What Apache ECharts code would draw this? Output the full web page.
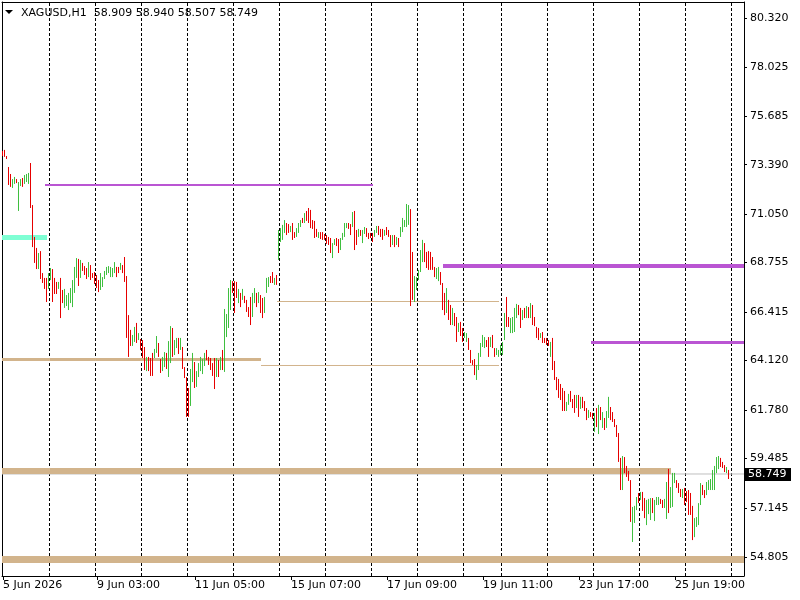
<!DOCTYPE html>
<html><head><meta charset="utf-8">
<script src="https://cdn.jsdelivr.net/npm/echarts@6/dist/echarts.min.js"></script>
<style>html,body{margin:0;padding:0;background:#fff}#c{width:800px;height:600px}</style>
</head><body><div id="c"></div>
<script>
const symbolName = 'XAGUSD,H1';
const lastQuote = [58.909, 58.940, 58.507, 58.749];

const highs = [
74.04,74.09,73.80,73.28,72.95,72.71,72.81,72.71,72.57,72.71,
72.76,72.90,72.95,73.00,73.47,71.48,69.97,69.45,69.21,69.30,
68.26,68.03,68.03,68.26,68.50,68.45,68.03,67.84,67.84,68.03,
67.46,67.51,67.22,67.32,67.55,67.93,68.55,68.97,68.93,68.88,
68.74,68.59,68.50,68.78,68.64,68.26,68.31,68.17,67.93,68.26,
68.07,68.36,68.55,68.59,68.55,68.50,68.78,68.55,68.55,68.74,
68.64,69.02,68.12,66.27,65.57,65.33,65.71,65.90,65.42,65.14,
65.09,64.76,64.29,64.29,64.24,64.48,64.67,65.28,64.95,64.19,
64.29,64.52,64.48,65.04,65.75,65.66,65.09,65.19,65.19,65.19,
64.76,63.81,63.34,62.82,63.72,64.48,64.05,63.62,64.00,64.29,
64.19,64.48,64.62,64.29,64.24,64.00,64.24,64.24,64.14,64.29,
64.62,66.56,66.32,67.55,67.93,67.88,67.88,67.84,67.51,67.32,
67.51,67.18,66.99,66.65,67.13,67.32,67.55,67.32,67.36,67.22,
67.08,67.13,68.03,68.07,68.12,68.31,68.03,68.17,70.30,70.39,
70.54,70.77,70.63,70.58,70.49,70.63,70.20,70.39,70.63,70.77,
70.87,71.10,71.20,71.34,71.25,70.77,70.73,70.35,70.20,70.20,
70.20,70.11,70.06,69.97,69.92,69.68,69.87,69.92,69.87,69.92,
70.16,70.63,70.63,70.63,70.58,71.15,71.20,70.30,70.35,70.30,
70.30,70.44,70.39,70.16,70.16,70.16,70.30,70.49,70.49,70.35,
70.35,70.30,70.44,70.30,70.06,70.06,70.06,69.97,69.92,70.44,
70.87,70.77,71.53,71.48,71.29,69.26,68.12,68.07,68.41,69.35,
69.83,69.68,69.26,69.30,69.26,69.02,68.55,68.50,68.55,68.31,
67.79,67.32,67.55,66.99,66.75,66.61,66.37,66.18,65.90,65.95,
65.66,65.47,65.42,65.19,64.62,64.14,64.19,63.91,64.48,64.95,
65.33,65.23,65.09,65.23,65.23,65.33,64.71,64.71,64.62,64.86,
65.00,66.37,67.13,66.18,66.13,66.18,66.61,66.80,66.75,66.61,
66.51,66.61,66.70,66.65,66.84,66.75,66.18,65.71,65.66,65.42,
65.47,65.19,65.19,65.09,65.00,65.19,64.10,63.34,63.25,63.01,
62.82,62.68,62.16,62.54,62.68,62.30,62.49,62.49,62.49,62.40,
62.40,62.20,61.87,61.78,61.68,61.64,61.64,61.87,62.02,61.92,
61.68,61.40,61.73,62.40,61.92,61.68,61.35,61.07,60.69,59.51,
59.60,59.55,59.13,58.89,58.46,57.19,57.24,57.66,57.85,57.90,
57.90,57.61,57.52,57.57,57.61,57.61,57.52,57.66,57.66,57.57,
57.52,57.57,58.37,58.99,58.13,58.80,58.80,58.46,58.32,58.04,
58.04,58.09,57.94,57.99,57.85,57.24,56.66,56.71,57.37,58.32,
58.23,57.99,58.37,58.46,58.51,58.94,59.13,59.55,59.60,59.51,
59.32,59.17,59.08,58.94
];

const lows = [
73.80,73.76,73.66,72.43,72.34,72.29,72.48,72.52,71.20,72.38,
72.34,72.48,72.57,72.48,71.34,69.49,68.74,68.45,68.45,67.98,
67.79,67.51,66.89,67.51,67.93,66.89,67.27,67.27,67.51,66.13,
66.84,66.61,66.70,66.51,66.84,66.65,67.32,68.03,67.65,68.03,
68.36,68.17,67.98,68.07,67.93,68.03,67.74,67.55,67.36,67.46,
67.60,67.98,68.17,68.26,68.07,68.07,68.26,68.07,68.26,68.41,
68.26,67.84,65.19,64.29,64.81,64.81,65.00,64.95,65.09,64.62,
64.24,63.67,63.62,63.62,63.39,63.39,64.24,64.48,64.29,63.53,
63.62,63.81,63.72,63.34,64.00,64.29,64.38,64.71,64.43,64.62,
63.72,63.29,61.45,61.45,61.97,63.10,62.82,62.87,63.34,63.62,
63.48,63.86,64.14,63.91,63.67,63.39,62.77,63.34,63.34,63.67,
63.67,63.58,65.23,65.66,66.51,67.32,66.37,67.08,66.84,66.65,
66.99,66.84,66.42,66.18,65.80,66.18,66.84,66.65,66.84,66.37,
66.13,66.37,67.32,67.60,67.79,67.79,67.70,67.70,68.88,69.73,
69.83,70.16,70.06,70.16,70.20,69.83,69.92,69.97,70.16,70.44,
70.63,70.63,70.73,70.63,70.39,70.35,69.92,69.97,69.92,69.87,
69.83,69.83,69.64,69.59,69.21,68.97,69.59,69.54,69.21,69.35,
69.83,69.97,70.39,70.35,70.06,70.44,69.35,69.59,69.97,70.02,
69.68,70.11,69.97,69.87,69.92,69.73,69.97,70.16,70.06,69.97,
69.83,70.02,70.06,69.97,69.49,69.59,69.49,69.59,69.49,69.97,
70.20,70.44,70.44,70.54,66.70,66.99,66.89,67.46,67.93,68.31,
68.78,68.78,68.50,68.41,68.41,68.41,68.07,67.98,67.88,67.70,
66.51,66.27,66.37,66.04,65.80,65.80,65.75,65.00,65.47,65.28,
65.00,65.19,65.00,64.62,64.00,63.91,63.43,63.20,63.67,64.29,
64.76,64.71,64.76,64.29,64.76,64.71,64.29,64.38,64.29,64.38,
64.38,65.09,65.71,65.71,65.42,65.42,65.47,66.13,66.27,65.66,
66.04,66.13,66.13,66.13,66.13,65.80,65.75,65.19,65.09,65.19,
64.95,64.95,64.86,64.81,64.29,63.67,63.20,62.72,62.35,62.25,
61.73,61.73,61.73,62.02,62.16,61.87,61.64,61.87,61.45,61.83,
61.87,61.73,61.30,61.40,61.45,61.35,60.74,60.97,60.64,61.30,
60.93,60.83,60.93,61.40,61.30,61.21,60.97,60.50,59.32,57.99,
57.99,58.79,58.61,58.42,56.48,55.53,56.43,57.04,57.37,57.52,
57.00,56.66,56.33,56.85,56.57,56.90,56.52,57.28,57.28,57.33,
57.14,57.14,56.62,56.90,57.14,57.19,58.32,58.09,57.85,57.66,
57.61,57.28,57.42,56.81,56.81,55.62,55.76,56.24,56.33,57.28,
57.75,57.61,57.75,57.99,57.99,57.99,57.99,58.79,58.98,59.08,
59.03,58.84,58.79,58.51
];

// g = bullish bar, r = bearish bar
const barDirs = [
'rrrrrggrgg','rgggrrrrgr','rrrggrrrgr','rgggggggrg','rrrgrrrrrg',
'gggggggrrg','rrrrrggrgr','rrgrrrggrr','ggrggrggrg','rrrrggrggg',
'ggrrrrrgrg','rggggrrrgr','grrrrggrgr','rgggrrgrgg','ggrrgrrggg',
'rgrrrrrrgr','rrrrrggrrg','gggrrgrrgr','ggrrrrggrr','rgrrrgrgrg',
'ggggrrgggg','grrrrrrggr','rrgrrgrrgr','rggrrrrggg','ggrrgrrggg',
'ggrrggggrr','grgrgrrrrg','rrrrgrrrrr','rrggrrrgrg','rrrgrrgrgr',
'grggrrrrrr','grrrrgggrg','rrgggrgggr','rggrgggrrr','grrrrrgggg',
'rrgggggggr','rrgr'
].join('').split('');

const yTicks = [54.805,57.145,59.485,61.780,64.120,66.415,68.755,71.050,73.390,75.685,78.025,80.320];
const labelIdx = [0,47,96,144,192,240,288,336];
const labelText = ['5 Jun 2026','9 Jun 03:00','11 Jun 05:00','15 Jun 07:00','17 Jun 09:00','19 Jun 11:00','23 Jun 17:00','25 Jun 19:00'];
const gridIdx = [23,46,69,92,115,138,161,184,207,230,249,272,295,318,341,364];

// horizontal objects: price, first bar, last bar
const levelValues = [72.429, 69.944, 68.595, 64.974, 64.168, 63.885, 66.914, 58.891, 54.701];
const levelFrom   = [21, -0.5, 220, 294, -0.5, 129, 137, -0.5, -0.5];
const levelTo     = [185, 22, 370.5, 370.5, 129, 248, 248, 334, 370.5];

// ---------- rendering ----------
const SLOTS = 371;
const Y_MIN = 53.920, Y_MAX = 81.092;
const C_UP = '#3fbf3f', C_DOWN = '#e60000';
const FONT = 'DejaVu Sans';
const levelStyle = [
  ['#ba55d3',2],['#7fffd4',5],['#ba55d3',4],['#ba55d3',3],['#d2b48c',3],
  ['#d2b48c',1],['#d2b48c',1],['#d2b48c',6],['#d2b48c',7]
];

const chart = echarts.init(document.getElementById('c'), null, {renderer:'canvas'});

// candlestick rows: [index, open, close, low, high]; at this zoom each bar is a high-low line
const ohlc = highs.map((h,i)=> barDirs[i]==='g'
  ? [i, lows[i], h, lows[i], h]
  : [i, h, lows[i], lows[i], h]);

const baseX = {type:'value', min:-0.5, max:SLOTS-0.5, splitLine:{show:false}};
const baseY = {type:'value', min:Y_MIN, max:Y_MAX, splitLine:{show:false}};

const series = [];
series.push({
  type:'line', name:'bid', data:[[-0.5, lastQuote[3]],[SLOTS-0.5, lastQuote[3]]],
  symbol:'none', lineStyle:{color:'#c0c0c0', width:1}, z:2, silent:true,
  markLine:{silent:true, symbol:'none', z:1, label:{show:false}, emphasis:{disabled:true},
    lineStyle:{type:[3,2], color:'#000', width:1},
    data: gridIdx.map(i=>({xAxis: i+0.25}))}
});
levelValues.forEach((v,k)=>{
  series.push({type:'line', data:[[levelFrom[k], v],[levelTo[k], v]], symbol:'none',
    lineStyle:{color:levelStyle[k][0], width:levelStyle[k][1]}, z:2, silent:true});
});
series.push({type:'candlestick', name:'XAGUSD', data:ohlc,
  encode:{x:0, y:[1,2,3,4]}, barWidth:1, z:3, silent:true,
  itemStyle:{color:C_UP, color0:C_DOWN, borderColor:C_UP, borderColor0:C_DOWN, borderWidth:1}});

chart.setOption({
  animation:false,
  backgroundColor:'#fff',
  grid:{left:2, right:56, top:2, bottom:24},
  xAxis:[
    Object.assign({}, baseX, {position:'bottom',
      axisLine:{show:true, onZero:false, lineStyle:{color:'#000', width:1}},
      axisTick:{show:true, inside:false, length:4, customValues:labelIdx, lineStyle:{color:'#000'}},
      axisLabel:{show:true, customValues:labelIdx, align:'left', margin:4, color:'#000',
        fontFamily:FONT, fontSize:11, formatter:(v)=>{const k=labelIdx.indexOf(Math.round(v)); return k>=0?labelText[k]:'';}}}),
    Object.assign({}, baseX, {position:'bottom',
      axisLine:{show:false, onZero:false},
      axisTick:{show:true, inside:true, length:3, customValues:gridIdx, lineStyle:{color:'#000'}},
      axisLabel:{show:false}}),
    Object.assign({}, baseX, {position:'top',
      axisLine:{show:true, onZero:false, lineStyle:{color:'#000', width:1}},
      axisTick:{show:false}, axisLabel:{show:false}})
  ],
  yAxis:[
    Object.assign({}, baseY, {position:'right',
      axisLine:{show:true, onZero:false, lineStyle:{color:'#000', width:1}},
      axisTick:{show:true, length:3, customValues:yTicks, lineStyle:{color:'#000'}},
      axisLabel:{show:true, customValues:yTicks, margin:6, color:'#000', fontFamily:FONT, fontSize:11,
        formatter:(v)=>v.toFixed(3)}}),
    Object.assign({}, baseY, {position:'left',
      axisLine:{show:true, onZero:false, lineStyle:{color:'#000', width:1}},
      axisTick:{show:false}, axisLabel:{show:false}})
  ],
  series: series
});

const py = Math.round(chart.convertToPixel({yAxisIndex:0}, lastQuote[3]));
const pxRight = Math.round(chart.convertToPixel({xAxisIndex:0}, SLOTS-0.5));
chart.setOption({
  graphic:[
    {type:'polygon', shape:{points:[[5,10],[13,10],[9,14]]}, style:{fill:'#000'}},
    {type:'text', x:21, y:13, style:{text: symbolName + '  ' + lastQuote.map(v=>v.toFixed(3)).join(' '),
      font:'11px "DejaVu Sans"', fill:'#000', verticalAlign:'middle', align:'left'}},
    {type:'rect', shape:{x:pxRight+1, y:py-6, width:46, height:13}, style:{fill:'#000'}, z:10},
    {type:'text', x:pxRight+4, y:py+0.5, z:11, style:{text:lastQuote[3].toFixed(3), fill:'#fff',
      font:'11px "DejaVu Sans"', verticalAlign:'middle', align:'left'}}
  ]
});
</script></body></html>
